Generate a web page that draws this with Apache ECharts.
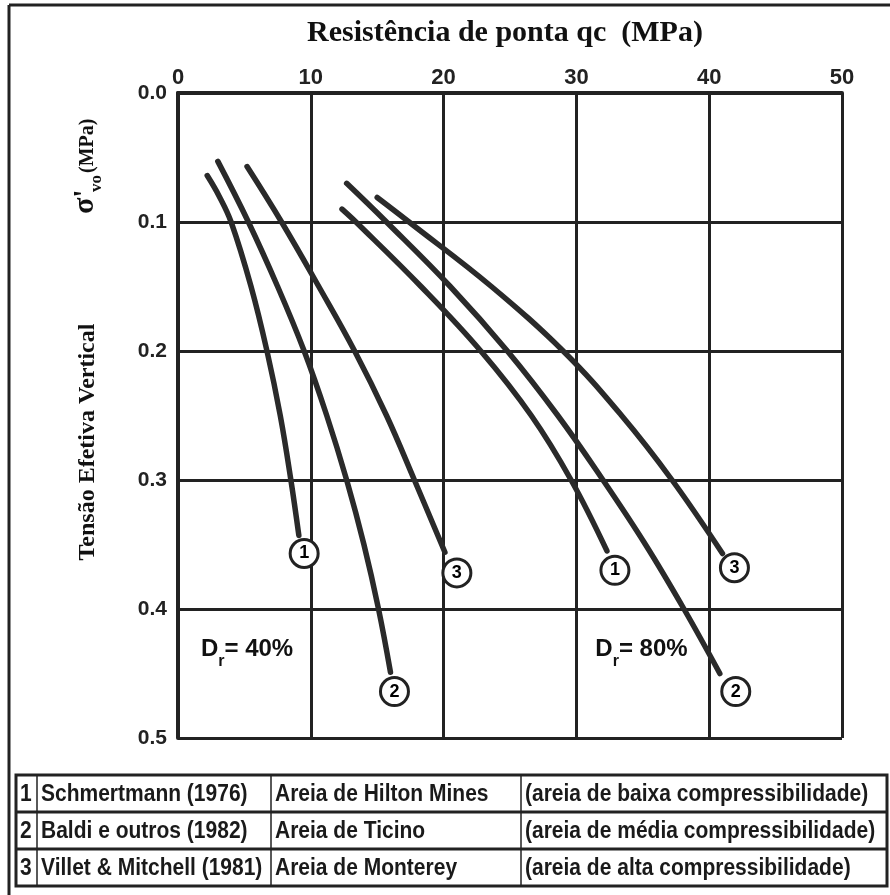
<!DOCTYPE html>
<html>
<head>
<meta charset="utf-8">
<title>Resistência de ponta qc</title>
<script src="https://cdn.jsdelivr.net/npm/echarts@6/dist/echarts.min.js"></script>
<style>
  html, body { margin: 0; padding: 0; background: #fff; }
  #chart { width: 890px; height: 895px; }
</style>
</head>
<body>
<div id="chart"></div>
<script>
// eixos
const xTicks = [0, 10, 20, 30, 40, 50]
const yTicks = [0, 0.1, 0.2, 0.3, 0.4, 0.5]

// curvas Dr = 40%  [qc (MPa), sigma'vo (MPa)]
const dr40_1 = [[2.2, 0.064], [3.1, 0.080], [4.0, 0.100], [5.5, 0.150], [6.7, 0.200], [7.7, 0.250], [8.5, 0.300], [9.1, 0.343]]
const dr40_2 = [[3.0, 0.053], [5.3, 0.100], [7.5, 0.150], [9.5, 0.200], [11.2, 0.250], [12.7, 0.300], [14.0, 0.350], [15.1, 0.400], [16.0, 0.449]]
const dr40_3 = [[5.2, 0.057], [7.8, 0.100], [10.6, 0.150], [13.3, 0.200], [15.7, 0.250], [17.8, 0.300], [20.1, 0.356]]

// curvas Dr = 80%
const dr80_1 = [[12.35, 0.090], [13.4, 0.100], [18.3, 0.150], [22.8, 0.200], [26.6, 0.250], [29.6, 0.300], [32.3, 0.355]]
const dr80_2 = [[12.7, 0.070], [15.7, 0.100], [20.5, 0.150], [24.8, 0.200], [28.6, 0.250], [32.0, 0.300], [35.2, 0.350], [38.1, 0.400], [40.8, 0.450]]
const dr80_3 = [[15.0, 0.081], [17.4, 0.100], [23.6, 0.150], [29.0, 0.200], [33.4, 0.250], [37.2, 0.300], [41.0, 0.357]]

// numeros circulados no fim de cada curva
const markerPos = [[9.5, 0.357], [16.3, 0.464], [21.0, 0.372], [32.9, 0.370], [42.0, 0.464], [41.9, 0.368]]
const markerText = ['1', '2', '3', '1', '2', '3']

// rotulos de densidade relativa
const drPos = [[5.2, 0.431], [34.9, 0.431]]
const drText = ['40%', '80%']

// tabela de referencias
const tabNum = ['1', '2', '3']
const tabAutor = ['Schmertmann (1976)', 'Baldi e outros (1982)', 'Villet & Mitchell (1981)']
const tabAreia = ['Areia de Hilton Mines', 'Areia de Ticino', 'Areia de Monterey']
const tabTipo = ['(areia de baixa compressibilidade)', '(areia de média compressibilidade)', '(areia de alta compressibilidade)']

const ink = '#222'
const curveColor = '#2a2a2a'

function curve (data) {
  return {
    type: 'line',
    data: data,
    smooth: 0.4,
    showSymbol: false,
    silent: true,
    lineStyle: { width: 5.5, color: curveColor, cap: 'round' },
    z: 3
  }
}

// tabela
const rowTop = 775
const rowH = 37
const colX = [16, 37, 271, 521, 887]
const tableGraphics = [
  { type: 'rect', shape: { x: colX[0], y: rowTop, width: colX[4] - colX[0], height: rowH * 3 }, style: { fill: 'none', stroke: ink, lineWidth: 3 } },
  { type: 'line', shape: { x1: colX[0], y1: rowTop + rowH, x2: colX[4], y2: rowTop + rowH }, style: { stroke: ink, lineWidth: 3 } },
  { type: 'line', shape: { x1: colX[0], y1: rowTop + rowH * 2, x2: colX[4], y2: rowTop + rowH * 2 }, style: { stroke: ink, lineWidth: 3 } }
]
for (let c = 1; c < 4; c++) {
  tableGraphics.push({ type: 'line', shape: { x1: colX[c], y1: rowTop, x2: colX[c], y2: rowTop + rowH * 3 }, style: { stroke: ink, lineWidth: 1.5 } })
}
const cols = [tabNum, tabAutor, tabAreia, tabTipo]
for (let r = 0; r < 3; r++) {
  for (let c = 0; c < 4; c++) {
    tableGraphics.push({
      type: 'text',
      x: colX[c] + 4,
      y: rowTop + rowH * r + rowH / 2 + 1,
      scaleY: 1.15,
      style: {
        text: cols[c][r],
        font: 'bold 21px "Liberation Sans", Arial, sans-serif',
        fill: '#1a1a1a',
        verticalAlign: 'middle'
      }
    })
  }
}

const chart = echarts.init(document.getElementById('chart'))
chart.setOption({
  animation: false,
  backgroundColor: '#fff',
  textStyle: { fontFamily: '"Liberation Sans", Arial, sans-serif' },
  grid: { left: 178, top: 93, width: 664, height: 645 },
  xAxis: {
    type: 'value',
    position: 'top',
    min: xTicks[0],
    max: xTicks[xTicks.length - 1],
    interval: xTicks[1] - xTicks[0],
    axisLine: { show: true, onZero: false, lineStyle: { color: ink, width: 4 } },
    axisTick: { show: false },
    axisLabel: { margin: 4, fontSize: 22, fontWeight: 'bold', color: '#222' },
    splitLine: { show: true, lineStyle: { color: ink, width: 3 } }
  },
  yAxis: {
    type: 'value',
    inverse: true,
    min: yTicks[0],
    max: yTicks[yTicks.length - 1],
    interval: 0.1,
    axisLine: { show: true, onZero: false, lineStyle: { color: ink, width: 4 } },
    axisTick: { show: false },
    axisLabel: { margin: 11, fontSize: 21, fontWeight: 'bold', color: '#222', formatter: v => v.toFixed(1) },
    splitLine: { show: true, lineStyle: { color: ink, width: 3 } }
  },
  graphic: [
    { type: 'line', shape: { x1: 9, y1: 5, x2: 890, y2: 5 }, style: { stroke: ink, lineWidth: 3 } },
    { type: 'line', shape: { x1: 9, y1: 5, x2: 9, y2: 895 }, style: { stroke: ink, lineWidth: 3 } },
    {
      type: 'text',
      x: 505,
      y: 33,
      style: {
        text: 'Resistência de ponta qc  (MPa)',
        font: 'bold 30px "Liberation Serif", "Times New Roman", serif',
        fill: '#111',
        align: 'center',
        verticalAlign: 'middle'
      }
    },
    {
      type: 'group',
      x: 88,
      y: 442,
      rotation: Math.PI / 2,
      children: [
        {
          type: 'text',
          style: {
            text: 'Tensão Efetiva Vertical',
            font: 'bold 24px "Liberation Serif", "Times New Roman", serif',
            fill: '#111',
            align: 'center',
            verticalAlign: 'middle'
          }
        },
        {
          type: 'text',
          x: 228,
          y: -3,
          style: { text: "σ'", font: 'bold 30px "Liberation Serif", serif', fill: '#111', verticalAlign: 'middle' }
        },
        {
          type: 'text',
          x: 250,
          y: 9,
          style: { text: 'vo', font: 'bold 17px "Liberation Serif", serif', fill: '#111', verticalAlign: 'middle' }
        },
        {
          type: 'text',
          x: 269,
          y: 0,
          style: { text: '(MPa)', font: 'bold 20px "Liberation Serif", serif', fill: '#111', verticalAlign: 'middle' }
        }
      ]
    }
  ].concat(tableGraphics),
  series: [
    curve(dr40_1), curve(dr40_2), curve(dr40_3),
    curve(dr80_1), curve(dr80_2), curve(dr80_3),
    {
      type: 'scatter',
      data: markerPos.map((p, i) => [p[0], p[1], markerText[i]]),
      symbol: 'circle',
      symbolSize: 28,
      silent: true,
      z: 5,
      itemStyle: { color: '#fff', borderColor: ink, borderWidth: 3, opacity: 1 },
      label: { show: true, position: 'inside', formatter: p => p.value[2], fontSize: 18, fontWeight: 'bold', color: '#000' }
    },
    {
      type: 'scatter',
      data: drPos.map((p, i) => [p[0], p[1], drText[i]]),
      symbolSize: 1,
      silent: true,
      z: 5,
      itemStyle: { color: '#fff' },
      label: {
        show: true,
        position: 'inside',
        color: '#111',
        opacity: 1,
        textBorderWidth: 0,
        formatter: p => '{d|D}{r|r}{d|= ' + p.value[2] + '}',
        rich: {
          d: { fontSize: 24, lineHeight: 42, color: '#111', fontWeight: 'bold' },
          r: { fontSize: 16, lineHeight: 6, verticalAlign: 'bottom', color: '#111', fontWeight: 'bold' }
        }
      }
    }
  ]
})
</script>
</body>
</html>
